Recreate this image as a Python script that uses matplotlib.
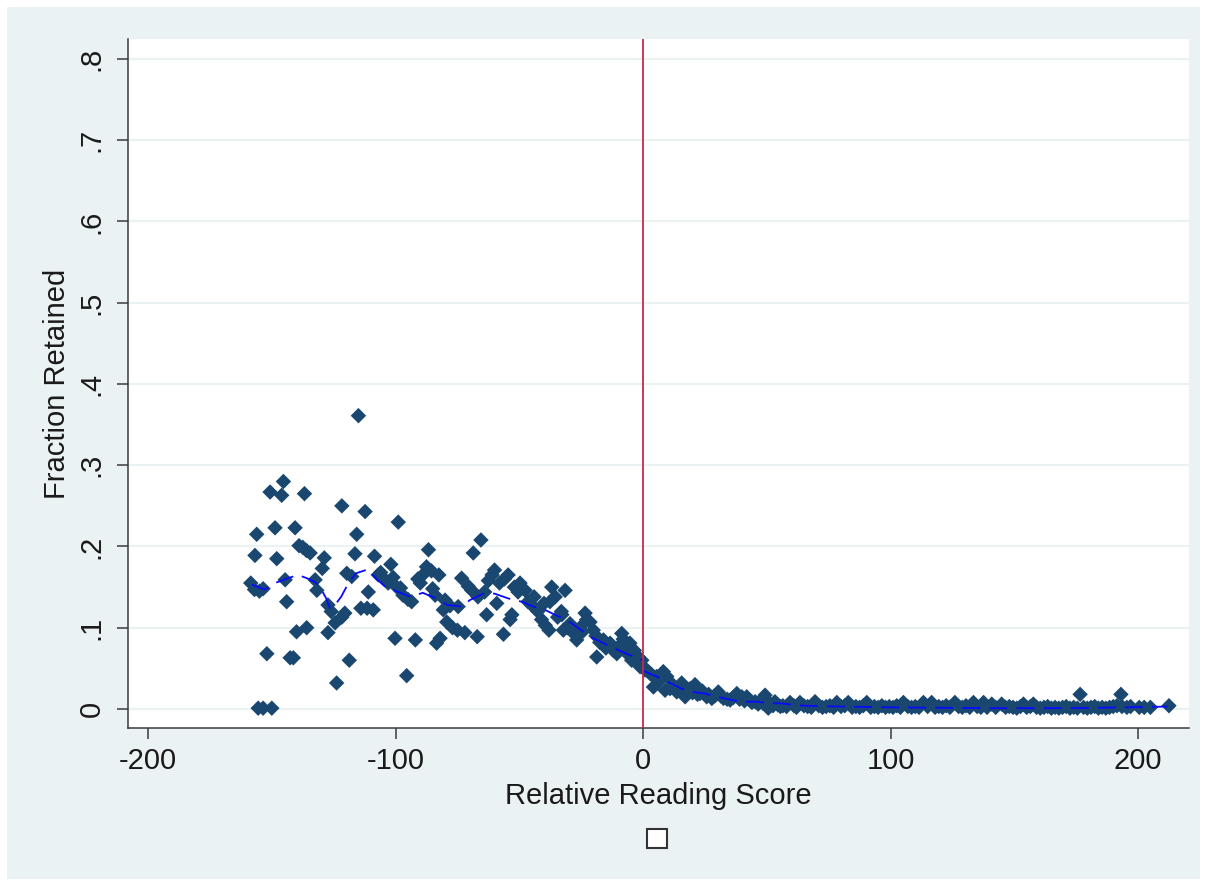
import matplotlib as mpl
mpl.use('Agg')
import matplotlib.pyplot as plt
from matplotlib.patches import Rectangle

plt.rcParams['font.family'] = ['Liberation Sans', 'DejaVu Sans']
plt.rcParams['axes.unicode_minus'] = False

# relative reading score vs fraction retained
score_left = [-158.5, -157, -156.8, -156.1, -155.5, -155, -153.5, -153.5, -152, -150.7,
              -150, -148.7, -148, -146, -145.3, -144.6, -144, -142.6, -141.3, -140.6,
              -140, -139, -137.5, -136.8, -136, -135.9, -134.5, -132.5, -131.8, -129.6,
              -128.8, -127.3, -127.3, -126, -124.4, -123.8, -121.7, -121.7, -120.5, -119.7,
              -118.7, -117.7, -116.4, -115.7, -115, -114, -112.3, -111.5, -111, -109,
              -108.5, -107, -106, -104.5, -103, -101.9, -101, -100.2, -99.5, -98.9,
              -98, -97, -95.5, -95, -93.5, -92, -91, -90, -89, -87.5,
              -86.7, -85.5, -85, -84, -83.4, -82.5, -82, -80.7, -80, -79.3,
              -78, -77, -75, -74.7, -73.3, -72, -70.6, -69.2, -68.6, -67,
              -66.7, -65.5, -64, -63.2, -62.5, -61, -60, -59.1, -58, -56.4,
              -56, -54.5, -53.7, -53, -52, -50.5, -49.7, -47.6, -46.5, -45,
              -44, -42.5, -41, -40, -39.5, -38, -37.6, -36.9, -35.5, -34.5,
              -33, -32.8, -32.2, -31.5, -30.5, -29.5, -28, -26.8, -25.5, -24.5,
              -23.4, -22.8, -21.4, -20.1, -19, -18.7, -17.5, -16, -15, -13.3,
              -12, -10.6, -9.5, -8.6, -8, -7, -5.3, -4.6, -3.5, -1.9,
              -1.2, -0.5]
frac_left = [0.155, 0.147, 0.189, 0.215, 0.001, 0.145, 0.001, 0.148, 0.068, 0.267,
             0.001, 0.223, 0.185, 0.263, 0.280, 0.159, 0.132, 0.063, 0.063, 0.223,
             0.095, 0.201, 0.199, 0.265, 0.195, 0.100, 0.192, 0.159, 0.146, 0.173,
             0.186, 0.128, 0.094, 0.120, 0.106, 0.032, 0.250, 0.113, 0.118, 0.167,
             0.060, 0.163, 0.191, 0.215, 0.361, 0.124, 0.243, 0.124, 0.144, 0.122,
             0.188, 0.165, 0.168, 0.160, 0.155, 0.178, 0.162, 0.087, 0.150, 0.230,
             0.149, 0.140, 0.041, 0.135, 0.132, 0.085, 0.160, 0.155, 0.165, 0.175,
             0.196, 0.170, 0.148, 0.140, 0.081, 0.165, 0.087, 0.122, 0.134, 0.107,
             0.127, 0.100, 0.097, 0.126, 0.161, 0.094, 0.151, 0.146, 0.192, 0.089,
             0.138, 0.208, 0.144, 0.116, 0.158, 0.165, 0.171, 0.130, 0.155, 0.092,
             0.160, 0.165, 0.110, 0.116, 0.150, 0.144, 0.155, 0.146, 0.132, 0.128,
             0.138, 0.120, 0.110, 0.130, 0.103, 0.097, 0.132, 0.150, 0.138, 0.113,
             0.120, 0.116, 0.097, 0.146, 0.100, 0.105, 0.093, 0.085, 0.100, 0.095,
             0.118, 0.110, 0.107, 0.097, 0.090, 0.064, 0.082, 0.085, 0.075, 0.081,
             0.072, 0.068, 0.078, 0.093, 0.086, 0.070, 0.081, 0.060, 0.072, 0.064,
             0.052, 0.060]

score_right = [0.8, 1.5, 2.8, 3.5, 4.2, 5.5, 7, 8.2, 8.9, 9.6,
               10.9, 12, 13.6, 14.5, 15.6, 17, 18, 19, 20, 21,
               22, 23, 24, 25.7, 26.5, 27.8, 29, 30.4, 31.5, 32.5,
               34, 35.2, 36.5, 37.9, 39, 39.9, 41, 41.9, 43, 44,
               45.3, 46.5, 47.5, 48.5, 49.3, 50.6, 51.5, 52.5, 53.3, 54.5,
               55.5, 56.5, 58, 59.4, 61, 62, 63.4, 65, 66.5, 68,
               69.5, 71, 72.5, 74, 75.5, 77, 78.3, 80, 81.5, 82.9,
               84.5, 86, 87.5, 89, 90.4, 92, 93.5, 95, 96.5, 98,
               99.5, 101, 102.5, 104, 105.2, 107, 108.5, 110, 111.5, 113.3,
               115, 116.6, 118, 119.5, 121, 122.5, 124, 126, 127.5, 129,
               130.5, 132, 133.5, 135, 136.5, 137.6, 139, 140.9, 142.5, 144.9,
               146.5, 148, 149.5, 151, 152.5, 153.7, 155, 156.5, 157.7, 159,
               160.5, 162, 163.5, 165, 166.5, 168, 169.5, 171, 172.5, 174,
               175.5, 176.6, 178, 179.5, 181, 182.5, 184, 185.5, 187, 188.5,
               190, 191.5, 193.1, 193.5, 195.5, 197, 200.5, 202.5, 205, 212.5]
frac_right = [0.048, 0.048, 0.044, 0.042, 0.027, 0.040, 0.036, 0.046, 0.023, 0.040,
              0.025, 0.030, 0.021, 0.028, 0.032, 0.015, 0.022, 0.025, 0.020, 0.030,
              0.018, 0.019, 0.022, 0.015, 0.018, 0.013, 0.016, 0.021, 0.016, 0.013,
              0.012, 0.011, 0.014, 0.019, 0.012, 0.015, 0.010, 0.015, 0.011, 0.008,
              0.009, 0.006, 0.010, 0.007, 0.017, 0.001, 0.006, 0.004, 0.009, 0.005,
              0.003, 0.004, 0.003, 0.008, 0.004, 0.002, 0.008, 0.004, 0.003, 0.002,
              0.009, 0.004, 0.002, 0.003, 0.004, 0.002, 0.008, 0.003, 0.004, 0.008,
              0.002, 0.003, 0.002, 0.004, 0.008, 0.002, 0.003, 0.002, 0.004, 0.002,
              0.003, 0.002, 0.004, 0.002, 0.008, 0.003, 0.002, 0.003, 0.002, 0.008,
              0.003, 0.008, 0.002, 0.003, 0.002, 0.004, 0.002, 0.008, 0.003, 0.002,
              0.004, 0.002, 0.008, 0.003, 0.002, 0.008, 0.002, 0.006, 0.002, 0.006,
              0.002, 0.003, 0.002, 0.001, 0.003, 0.006, 0.002, 0.003, 0.006, 0.002,
              0.001, 0.002, 0.003, 0.001, 0.002, 0.001, 0.002, 0.003, 0.001, 0.002,
              0.001, 0.018, 0.002, 0.001, 0.002, 0.003, 0.001, 0.002, 0.001, 0.002,
              0.003, 0.004, 0.018, 0.003, 0.002, 0.003, 0.002, 0.002, 0.002, 0.004]

# local fits on each side of the cutoff
fit_x_left = [-158, -153, -148.7, -143.4, -139.4, -135, -132.5, -130.5, -128, -126.5,
              -124, -122, -119, -116, -113, -111, -108, -104, -98, -94,
              -89, -83.5, -79, -73, -70, -64.5, -60, -54.4, -49, -44.3,
              -39.6, -35.6, -29.5, -21.4, -13.3, -6.6, -1.9, 0]
fit_y_left = [0.153, 0.147, 0.155, 0.161, 0.165, 0.160, 0.156, 0.150, 0.136, 0.124,
              0.130, 0.138, 0.155, 0.167, 0.170, 0.172, 0.161, 0.150, 0.143, 0.138,
              0.143, 0.136, 0.128, 0.126, 0.134, 0.142, 0.142, 0.136, 0.132, 0.126,
              0.122, 0.116, 0.107, 0.089, 0.077, 0.068, 0.062, 0.060]
fit_x_right = [0, 5.5, 10.9, 15.6, 20, 25, 30, 36, 40, 46, 51, 55, 65, 80, 100, 140, 170, 195, 212]
fit_y_right = [0.047, 0.040, 0.032, 0.025, 0.021, 0.019, 0.015, 0.011, 0.009, 0.009,
               0.007, 0.007, 0.004, 0.003, 0.002, 0.001, 0.001, 0.002, 0.003]

yticks = [0, 0.1, 0.2, 0.3, 0.4, 0.5, 0.6, 0.7, 0.8]
ytick_labels = ['0', '.1', '.2', '.3', '.4', '.5', '.6', '.7', '.8']
xticks = [-200, -100, 0, 100, 200]

navy = '#1a476f'
bg = '#eaf2f3'
txt = '#1a1a1a'

fig = plt.figure(figsize=(12.07, 8.86), dpi=100)
fig.patch.set_facecolor('white')
fig.add_artist(Rectangle((0.0058, 0.0079), 0.9884, 0.9842, transform=fig.transFigure,
                         facecolor=bg, edgecolor='none', zorder=0))

ax = fig.add_axes([0.10605, 0.17833, 0.87904, 0.77765])
ax.set_facecolor('white')

ax.scatter(score_left + score_right, frac_left + frac_right, marker='D', s=62,
           color=navy, edgecolors='none', zorder=3)
ax.plot(fit_x_left, fit_y_left, color='#0a0aff', lw=1.3, dashes=(10, 5), zorder=4)
ax.plot(fit_x_right, fit_y_right, color='#0a0aff', lw=1.3, dashes=(10, 5), zorder=4)
ax.axvline(0, color='#c8284b', lw=1.3, zorder=5)

ax.set_xlim(-208.1, 220.6)
ax.set_ylim(-0.0234, 0.8246)
ax.set_xticks(xticks)
ax.set_yticks(yticks)
ax.set_yticklabels(ytick_labels)
ax.grid(axis='y', color=bg, lw=1.5, zorder=0)
ax.set_axisbelow(True)

for s in ['top', 'right']:
    ax.spines[s].set_visible(False)
for s in ['left', 'bottom']:
    ax.spines[s].set_color('#3a3a3a')
    ax.spines[s].set_linewidth(1.1)

ax.tick_params(axis='both', direction='out', length=8, width=1.1, color='#3a3a3a',
               labelsize=21, labelcolor=txt)
ax.tick_params(axis='x', pad=6)
ax.tick_params(axis='y', pad=8)
plt.setp(ax.get_yticklabels(), rotation=90, va='center', ha='right')

ax.set_xlabel('Relative Reading Score', fontsize=21, color=txt)
ax.set_ylabel('Fraction Retained', fontsize=21, color=txt)
ax.xaxis.label.set_va('center')
ax.yaxis.label.set_va('center')
ax.xaxis.set_label_coords(0.5, -0.0988)
ax.yaxis.set_label_coords(-0.0669, 0.5)

# empty legend key below the axis title
fig.add_artist(Rectangle((0.5360, 0.04289), 0.01657, 0.02144, transform=fig.transFigure,
                         facecolor='white', edgecolor='#333333', lw=1.5, zorder=2))

fig.savefig('out.png', dpi=100)
